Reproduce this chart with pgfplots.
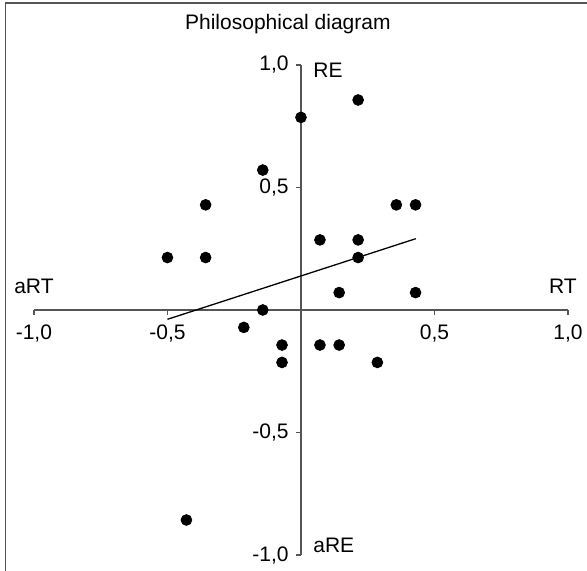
\documentclass[border=0pt]{standalone}
\usepackage{pgfplots}
\pgfplotsset{compat=1.18}
\usepackage{fontspec}
\setmainfont{Liberation Sans}
\definecolor{axgray}{HTML}{555555}

\begin{document}
\fontsize{10.5}{12.6}\selectfont
\begin{tikzpicture}
\begin{axis}[
  x=133.5pt, y=122.5pt,
  xmin=-1, xmax=1, ymin=-1, ymax=1,
  axis lines=middle,
  axis line style={-, axgray, line width=0.6pt},
  tick style={axgray, line width=0.6pt},
  tick align=outside,
  major tick length=2.5pt,
  xtick={-1,-0.5,0.5,1},
  ytick={-1,-0.5,0.5,1},
  xticklabels={{-1,0},{-0,5},{0,5},{1,0}},
  yticklabels={{-1,0},{-0,5},{0,5},{1,0}},
  tick label style={font=\fontsize{10.5}{12.6}\selectfont, black},
  xticklabel style={yshift=-1.2pt},
  clip=false,
]
% survey scores, steps of 1/14
\addplot[only marks, mark=*, mark size=2.7pt, black] coordinates {
  (0.214,0.857) (0,0.786) (-0.143,0.571)
  (-0.357,0.429) (0.357,0.429) (0.429,0.429)
  (0.071,0.286) (0.214,0.286)
  (-0.5,0.214) (-0.357,0.214) (0.214,0.214)
  (0.143,0.071) (0.429,0.071) (-0.143,0)
  (-0.214,-0.071)
  (-0.071,-0.143) (0.071,-0.143) (0.143,-0.143)
  (-0.071,-0.214) (0.286,-0.214)
  (-0.429,-0.857)
};
% fitted line
\addplot[black, line width=0.65pt, mark=none] coordinates {(-0.5,-0.038) (0.43,0.291)};

\node[anchor=base] at (axis cs:-0.049,1.143) {Philosophical diagram};
\node[anchor=base west, inner sep=0pt] at (axis cs:-1.075,0.069) {aRT};
\node[anchor=base east, inner sep=0pt] at (axis cs:1.034,0.069) {RT};
\node[anchor=base west, inner sep=0pt] at (axis cs:0.045,0.947) {RE};
\node[anchor=base west, inner sep=0pt] at (axis cs:0.045,-0.988) {aRE};

\draw[axgray, line width=0.75pt] (axis cs:-1.107,-1.3) -- (axis cs:-1.107,1.252) -- (axis cs:1.3,1.252);
\coordinate (bbTL) at (axis cs:-1.127,1.265);
\coordinate (bbBR) at (axis cs:1.071,-1.065);
\end{axis}
\pgfresetboundingbox
\useasboundingbox (bbTL) rectangle (bbBR);
\end{tikzpicture}
\end{document}
